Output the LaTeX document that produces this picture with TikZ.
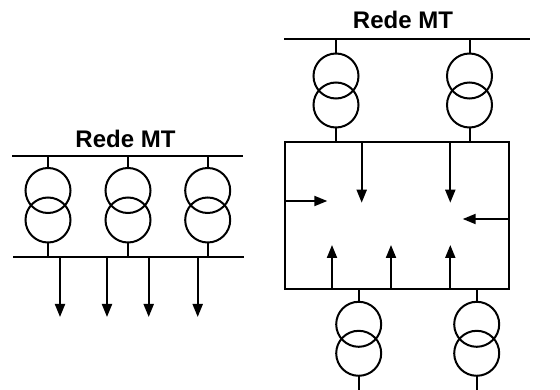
\documentclass[tikz,border=0pt]{standalone}
\usepackage{fontspec}
\setmainfont{Liberation Sans}
\usetikzlibrary{arrows.meta}
\tikzset{
  wire/.style={line width=2pt,black},
  coil/.style={circle,draw=black,line width=2pt,minimum size=45pt,inner sep=0pt,outer sep=0pt},
  flow/.style={wire,-{Triangle[length=13pt,width=10pt]},shorten >=0pt},
  title/.style={font=\fontsize{24}{26}\selectfont\bfseries,inner sep=0pt}
}
\begin{document}
\begin{tikzpicture}[x=1pt,y=-1pt]
\useasboundingbox (0,0) rectangle (560,390);
% left network
\node[title] (tl) at (125.5,139) {Rede MT};
\coordinate (la) at (12,156.5); \coordinate (lb) at (243,156.5);
\coordinate (lc) at (13,257.5); \coordinate (ld) at (244,257.5);
\draw[wire] (la) -- (lb);
\draw[wire] (lc) -- (ld);
\foreach \n/\x in {1/48,2/128,3/207.7}{
  \node[coil] (lt\n) at (\x,190.5) {};
  \node[coil] (lu\n) at (\x,220) {};
  \coordinate (lat\n) at (\x,156.5);
  \coordinate (lbt\n) at (\x,257.5);
  \draw[wire] (lat\n) -- (lt\n.north);
  \draw[wire] (lu\n.south) -- (lbt\n);
}
\foreach \n/\x in {1/60,2/107,3/148.7,4/197.7}{
  \coordinate (ls\n) at (\x,257.5);
  \coordinate (le\n) at (\x,317);
  \draw[flow] (ls\n) -- (le\n);
}
% right network
\node[title] (tr) at (403,20) {Rede MT};
\coordinate (ra) at (284,39.5); \coordinate (rb) at (530,39.5);
\draw[wire] (ra) -- (rb);
\coordinate (b1) at (284.7,142.3); \coordinate (b2) at (509.3,142.3);
\coordinate (b3) at (509.3,289); \coordinate (b4) at (284.7,289);
\draw[wire,line join=miter] (b1) -- (b2) -- (b3) -- (b4) -- cycle;
\foreach \n/\x in {1/336,2/469.5}{
  \node[coil] (rt\n) at (\x,76) {};
  \node[coil] (ru\n) at (\x,105) {};
  \coordinate (rat\n) at (\x,39.5);
  \coordinate (rbt\n) at (\x,142.3);
  \draw[wire] (rat\n) -- (rt\n.north);
  \draw[wire] (ru\n.south) -- (rbt\n);
}
\foreach \n/\x in {1/358.7,2/476.7}{
  \node[coil] (bt\n) at (\x,324.3) {};
  \node[coil] (bu\n) at (\x,353.3) {};
  \coordinate (bat\n) at (\x,289);
  \coordinate (bbt\n) at (\x,390);
  \draw[wire] (bat\n) -- (bt\n.north);
  \draw[wire] (bu\n.south) -- (bbt\n);
}
\foreach \n/\x in {1/361.7,2/450.3}{
  \coordinate (ds\n) at (\x,142.3);
  \coordinate (de\n) at (\x,202.7);
  \draw[flow] (ds\n) -- (de\n);
}
\foreach \n/\x in {1/332,2/391,3/450.3}{
  \coordinate (us\n) at (\x,289);
  \coordinate (ue\n) at (\x,245);
  \draw[flow] (us\n) -- (ue\n);
}
\coordinate (hs1) at (284.7,201); \coordinate (he1) at (327.3,201);
\draw[flow] (hs1) -- (he1);
\coordinate (hs2) at (509.3,219); \coordinate (he2) at (462.7,219);
\draw[flow] (hs2) -- (he2);
\end{tikzpicture}
\end{document}
